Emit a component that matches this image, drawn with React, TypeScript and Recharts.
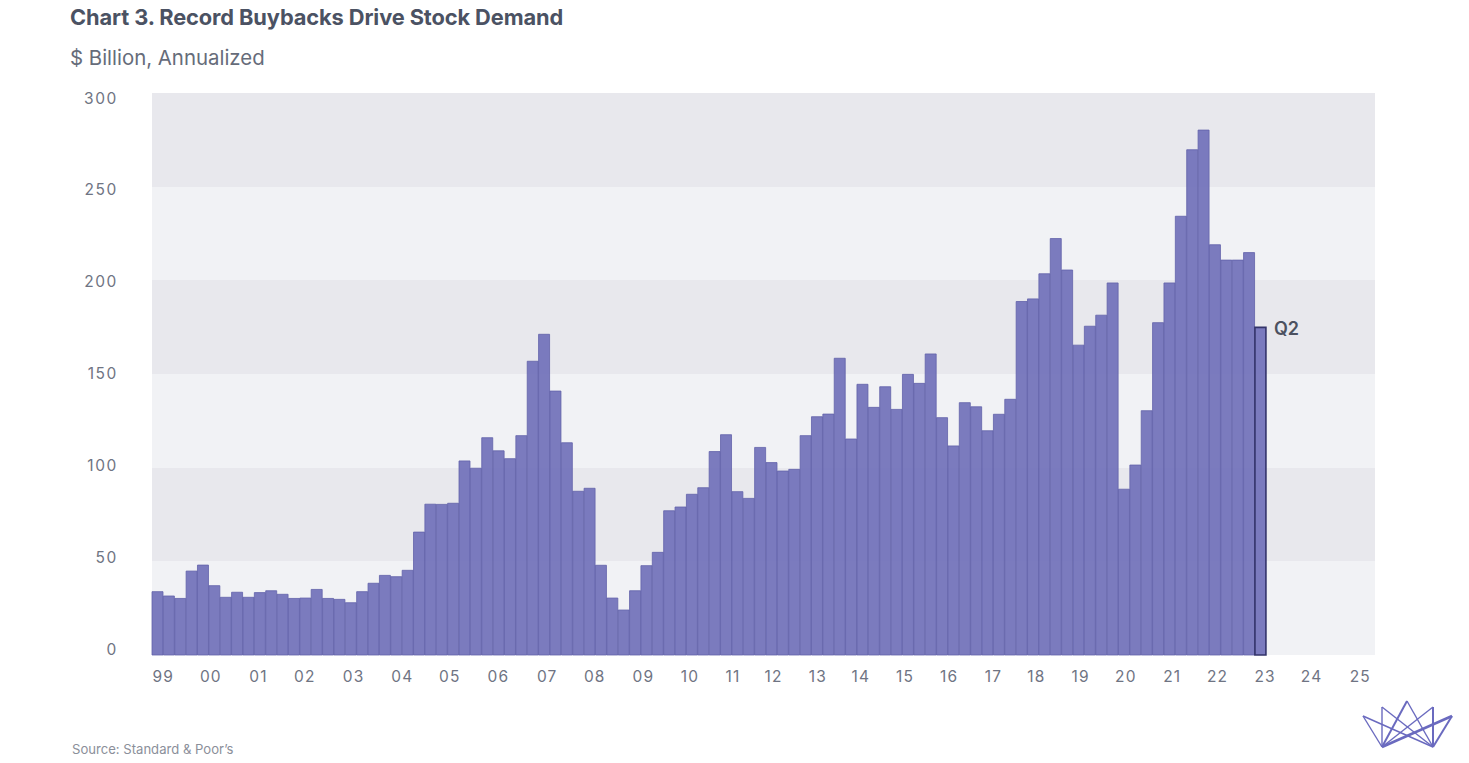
import React from "react";
import { BarChart, Bar, XAxis, YAxis, CartesianGrid, Cell } from "recharts";

// quarterly buybacks, 1999 Q1 .. 2023 Q2 ($bn, annualized)
const years = [
  "1999", "2000", "2001", "2002", "2003", "2004", "2005", "2006", "2007",
  "2008", "2009", "2010", "2011", "2012", "2013", "2014", "2015", "2016",
  "2017", "2018", "2019", "2020", "2021", "2022", "2023", "2024", "2025",
];
const quarterNames = ["Q1", "Q2", "Q3", "Q4"];

const buybacks = [
  33.8, 31.5, 30.2, 44.8,
  48.0, 37.0, 30.8, 33.5,
  30.8, 33.3, 34.3, 32.4,
  30.2, 30.4, 35.0, 30.2,
  29.7, 27.9, 33.8, 38.3,
  42.5, 41.8, 45.2, 65.6,
  80.5, 80.4, 81.0, 103.6,
  99.7, 116.0, 109.0, 104.8,
  117.1, 156.8, 171.2, 140.9,
  113.3, 87.4, 89.0, 47.9,
  30.4, 24.0, 34.3, 47.7,
  54.8, 77.0, 79.0, 85.8,
  89.3, 108.6, 117.6, 87.2,
  83.6, 110.8, 102.7, 98.2,
  99.1, 117.1, 127.2, 128.6,
  158.4, 115.3, 144.5, 132.2,
  143.2, 131.1, 149.8, 145.0,
  160.7, 126.7, 111.6, 134.7,
  132.5, 119.7, 128.5, 136.5,
  188.7, 190.1, 203.5, 222.3,
  205.5, 165.4, 175.5, 181.4,
  198.6, 88.5, 101.4, 130.4,
  177.4, 198.6, 234.2, 269.7,
  280.2, 219.0, 210.8, 210.8,
  214.8, 174.9,
];

const yTicks = [0, 50, 100, 150, 200, 250, 300];

// year labels sit on the quarter scale (0 = start of 1999 Q1)
const yearTickAt = [
  1.0, 5.2, 9.4, 13.5, 17.8, 22.1, 26.3, 30.6, 34.9, 39.1, 43.4, 47.5, 51.3,
  54.9, 58.8, 62.6, 66.5, 70.4, 74.3, 78.1, 82.0, 86.0, 90.1, 94.1, 98.3,
  102.4, 106.7,
];
const yearTickLabels = [
  "99", "00", "01", "02", "03", "04", "05", "06", "07", "08", "09", "10", "11",
  "12", "13", "14", "15", "16", "17", "18", "19", "20", "21", "22", "23",
  "24", "25",
];
const latestLabel = "Q2";

const rows = years
  .flatMap((y) => quarterNames.map((q) => `${y} ${q}`))
  .map((quarter, i) => ({
    quarter,
    t: i,
    value: i < buybacks.length ? buybacks[i] : null,
  }));

const lastIdx = buybacks.length - 1;

const axisText = "#6f7483";

function YTick(props: any) {
  const { x, y, payload } = props;
  // labels drift a little against the bands in the original
  const shift = -6 + (11 * payload.value) / 300;
  return (
    <text
      x={x}
      y={y + shift}
      textAnchor="end"
      dominantBaseline="central"
      fill={axisText}
      fontSize={15.5}
      letterSpacing={1.6}
      fontFamily="Inter, sans-serif"
    >
      {payload.value}
    </text>
  );
}

function XTick(props: any) {
  const { x, y, payload } = props;
  return (
    <text
      x={x}
      y={y}
      dy="0.71em"
      textAnchor="middle"
      fill={axisText}
      fontSize={15.5}
      letterSpacing={1.2}
      fontFamily="Inter, sans-serif"
    >
      {yearTickLabels[yearTickAt.indexOf(payload.value)]}
    </text>
  );
}

function LatestLabel(props: any) {
  const { x, y, width, index } = props;
  if (index !== lastIdx) return null;
  return (
    <text
      x={x + width + 8}
      y={y + 1}
      dominantBaseline="central"
      fill="#4c5160"
      fontSize={18}
      fontWeight={600}
      fontFamily="Inter, sans-serif"
    >
      {latestLabel}
    </text>
  );
}

function Logo() {
  const c = "#6a6abf";
  return (
    <svg
      width={1469}
      height={763}
      style={{ position: "absolute", left: 0, top: 0, pointerEvents: "none" }}
    >
      <g stroke={c} fill="none" strokeWidth={1.4} strokeLinejoin="round">
        <line x1={1363} y1={716} x2={1382} y2={747} />
        <line x1={1363} y1={716} x2={1433} y2={747} />
        <line x1={1382} y1={707} x2={1382} y2={747} />
        <line x1={1382} y1={707} x2={1433} y2={747} />
        <line x1={1407} y1={701} x2={1382} y2={747} strokeWidth={2} />
        <line x1={1407} y1={701} x2={1433} y2={747} />
        <line x1={1433} y1={707} x2={1433} y2={747} strokeWidth={2} />
        <line x1={1433} y1={707} x2={1382} y2={747} />
        <line x1={1452} y1={716} x2={1433} y2={747} strokeWidth={2} />
        <line x1={1452} y1={716} x2={1382} y2={747} strokeWidth={2.6} />
      </g>
    </svg>
  );
}

export default function App() {
  return (
    <div
      style={{
        position: "absolute",
        left: 0,
        top: 0,
        width: 1469,
        height: 763,
        background: "#ffffff",
        fontFamily: "Inter, sans-serif",
      }}
    >
      <div
        style={{
          position: "absolute",
          left: 70,
          top: 4,
          fontSize: 21.8,
          fontWeight: 700,
          color: "#4b5263",
          letterSpacing: -0.1,
        }}
      >
        Chart 3. Record Buybacks Drive Stock Demand
      </div>
      <div
        style={{
          position: "absolute",
          left: 70,
          top: 45,
          fontSize: 20.4,
          color: "#666c7a",
        }}
      >
        $ Billion, Annualized
      </div>

      <BarChart
        width={1469}
        height={763}
        data={rows}
        barCategoryGap={0}
        margin={{ top: 93, right: 94, bottom: 68, left: 82 }}
      >
        <CartesianGrid
          xAxisId="q"
          vertical={false}
          stroke="transparent"
          horizontalFill={["#e8e8ed", "#f1f2f5"]}
          fillOpacity={1}
        />
        <XAxis
          xAxisId="q"
          dataKey="quarter"
          hide
          height={0}
          padding={{ left: 0, right: -5 }}
        />
        <XAxis
          xAxisId="yr"
          dataKey="t"
          type="number"
          domain={[0, rows.length]}
          allowDataOverflow
          ticks={yearTickAt}
          interval={0}
          axisLine={false}
          tickLine={false}
          tickSize={0}
          tickMargin={16}
          height={40}
          tick={<XTick />}
        />
        <YAxis
          domain={[0, 300]}
          ticks={yTicks}
          interval={0}
          width={70}
          axisLine={false}
          tickLine={false}
          tickSize={0}
          tickMargin={34}
          tick={<YTick />}
        />
        <Bar
          xAxisId="q"
          dataKey="value"
          fill="#6e6eb8"
          fillOpacity={0.9}
          stroke="#6262aa"
          strokeWidth={0.8}
          isAnimationActive={false}
          label={<LatestLabel />}
        >
          {rows.map((r, i) => (
            <Cell
              key={r.quarter}
              stroke={i === lastIdx ? "#33336a" : "#6262aa"}
              strokeWidth={i === lastIdx ? 1.6 : 0.8}
            />
          ))}
        </Bar>
      </BarChart>

      <div
        style={{
          position: "absolute",
          left: 72,
          top: 741,
          fontSize: 13.1,
          color: "#8b8f9a",
        }}
      >
        Source: Standard &amp; Poor’s
      </div>
      <Logo />
    </div>
  );
}
